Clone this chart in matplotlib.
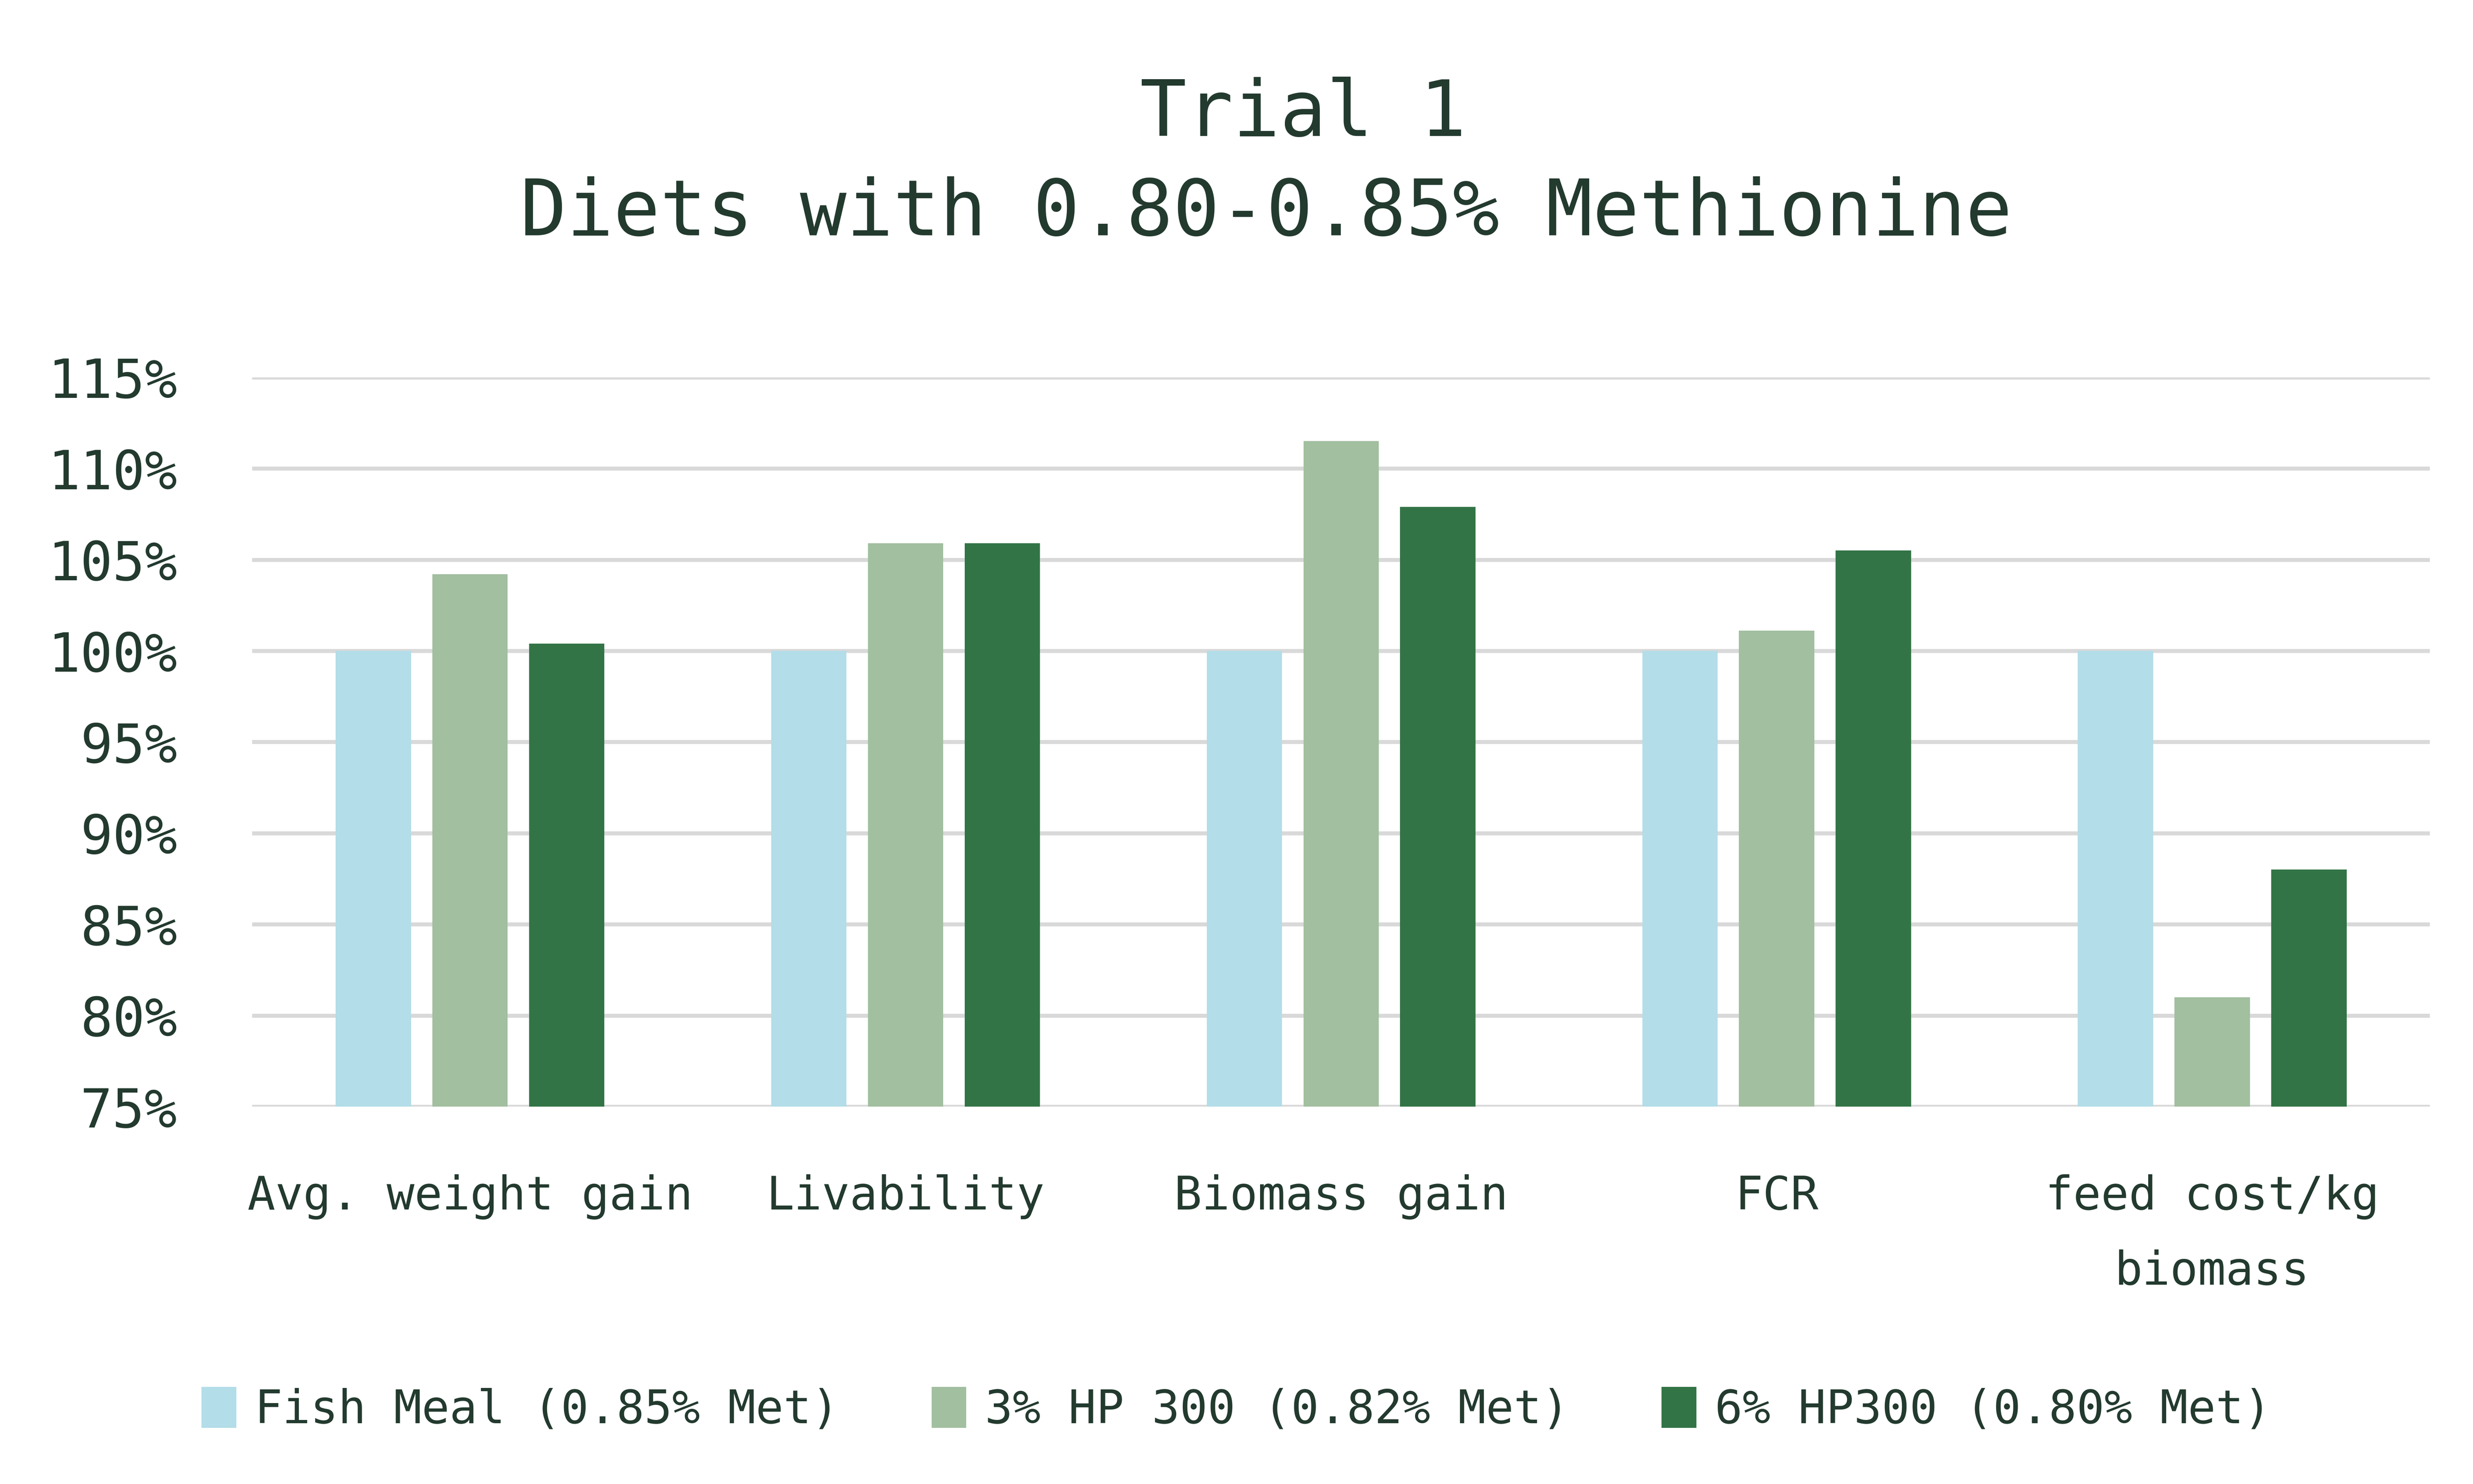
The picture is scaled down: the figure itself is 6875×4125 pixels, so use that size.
import numpy as np
import matplotlib
matplotlib.use("Agg")
import matplotlib.pyplot as plt

categories = ["Avg. weight gain", "Livability", "Biomass gain", "FCR", "feed cost/kg\nbiomass"]
series_names = ["Fish Meal (0.85% Met)", "3% HP 300 (0.82% Met)", "6% HP300 (0.80% Met)"]
fish_meal = [100.0, 100.0, 100.0, 100.0, 100.0]
hp300_3 = [104.2, 105.9, 111.5, 101.1, 81.0]
hp300_6 = [100.4, 105.9, 107.9, 105.5, 88.0]
yticks = [75, 80, 85, 90, 95, 100, 105, 110, 115]

colors = ["#B3DDE8", "#A2BFA0", "#327446"]
text_color = "#233A2F"
plt.rcParams["font.family"] = ["DejaVu Sans Mono"]

fig = plt.figure(figsize=(13.75, 8.25), dpi=500)
ax = fig.add_axes([0.102, 0.2543, 0.8806, 0.4914])

x = np.arange(len(categories))
width = 0.173
step = 0.222
for i, vals in enumerate([fish_meal, hp300_3, hp300_6]):
    heights = np.array(vals) - 75
    ax.bar(x + (i - 1) * step, heights, width, bottom=75, color=colors[i],
           label=series_names[i], zorder=3)

ax.set_xlim(-0.5, len(categories) - 0.5)
ax.set_ylim(75, 115)
ax.set_yticks(yticks)
ax.set_yticklabels([f"{v}%" for v in yticks], fontsize=21.5, color=text_color)
ax.set_xticks(x)
ax.set_xticklabels(categories, fontsize=18.5, color=text_color, linespacing=1.85, va="top")
ax.tick_params(axis="both", length=0)
ax.tick_params(axis="y", pad=30)
ax.tick_params(axis="x", pad=27)
ax.grid(axis="y", color="#D9D9D9", linewidth=1.6, zorder=0)
for s in ax.spines.values():
    s.set_visible(False)

# titles sit slightly right of the figure centre in the original
fig.text(0.527, 0.923, "Trial 1", ha="center", va="center", fontsize=31, color=text_color)
fig.text(0.512, 0.856, "Diets with 0.80-0.85% Methionine", ha="center", va="center",
         fontsize=31, color=text_color)

fig.legend(loc="center", bbox_to_anchor=(0.5, 0.05), ncol=3, frameon=False,
           fontsize=18.5, handlelength=0.75, handleheight=1.0, handletextpad=0.4,
           columnspacing=2.0, labelcolor=text_color)

fig.savefig("out.png", dpi=500)
